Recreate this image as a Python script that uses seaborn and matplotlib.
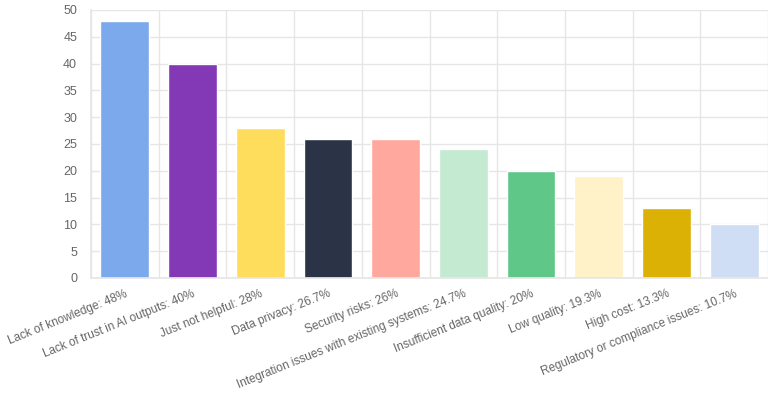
import matplotlib
matplotlib.use('Agg')
import matplotlib.pyplot as plt
import seaborn as sns
import pandas as pd

# 数据
categories = ['Lack of knowledge: 48%', 'Lack of trust in AI outputs: 40%',
              'Just not helpful: 28%', 'Data privacy: 26.7%', 'Security risks: 26%',
              'Integration issues with existing systems: 24.7%',
              'Insufficient data quality: 20%', 'Low quality: 19.3%',
              'High cost: 13.3%', 'Regulatory or compliance issues: 10.7%']
values = [48, 40, 28, 26, 26, 24, 20, 19, 13, 10]
colors = ['#7BA9EB', '#8338B6', '#FFDD5C', '#2A3446', '#FFA89E',
          '#C4EAD2', '#5FC787', '#FFF1C8', '#DCB105', '#CFDEF5']

sns.set_theme(style='white')
plt.rcParams['font.family'] = ['Liberation Sans', 'DejaVu Sans']

df = pd.DataFrame({'cat': categories, 'val': values})

fig = plt.figure(figsize=(7.68, 4), dpi=100)
ax = fig.add_axes([91 / 768, 122 / 400, 677 / 768, 268 / 400])

sns.barplot(data=df, x='cat', y='val', hue='cat', palette=colors,
            legend=False, width=0.72, ax=ax, saturation=1)

grid_c = '#E6E6E6'
ax.set_ylim(0, 50)
ax.set_yticks(range(0, 51, 5))
ax.set_xlim(-0.5, len(categories) - 0.5)
ax.set_xticks([i + 0.5 for i in range(-1, len(categories))], minor=True)
ax.grid(axis='y', color=grid_c, linewidth=1)
ax.grid(axis='x', which='minor', color=grid_c, linewidth=1)
ax.set_axisbelow(True)
ax.tick_params(axis='x', which='major', length=0, pad=7)
ax.tick_params(axis='x', which='minor', length=5, color=grid_c)
ax.tick_params(axis='y', length=8, color=grid_c, labelsize=9, labelcolor='#666666', pad=2)
plt.setp(ax.get_xticklabels(), rotation=22, ha='right', rotation_mode='anchor',
         fontsize=8.5, color='#666666')
for s in ax.spines.values():
    s.set_visible(False)
ax.spines['left'].set_visible(True)
ax.spines['left'].set_color(grid_c)
ax.spines['bottom'].set_visible(True)
ax.spines['bottom'].set_color(grid_c)
ax.set_xlabel('')
ax.set_ylabel('')

fig.savefig('out.png', dpi=100)
